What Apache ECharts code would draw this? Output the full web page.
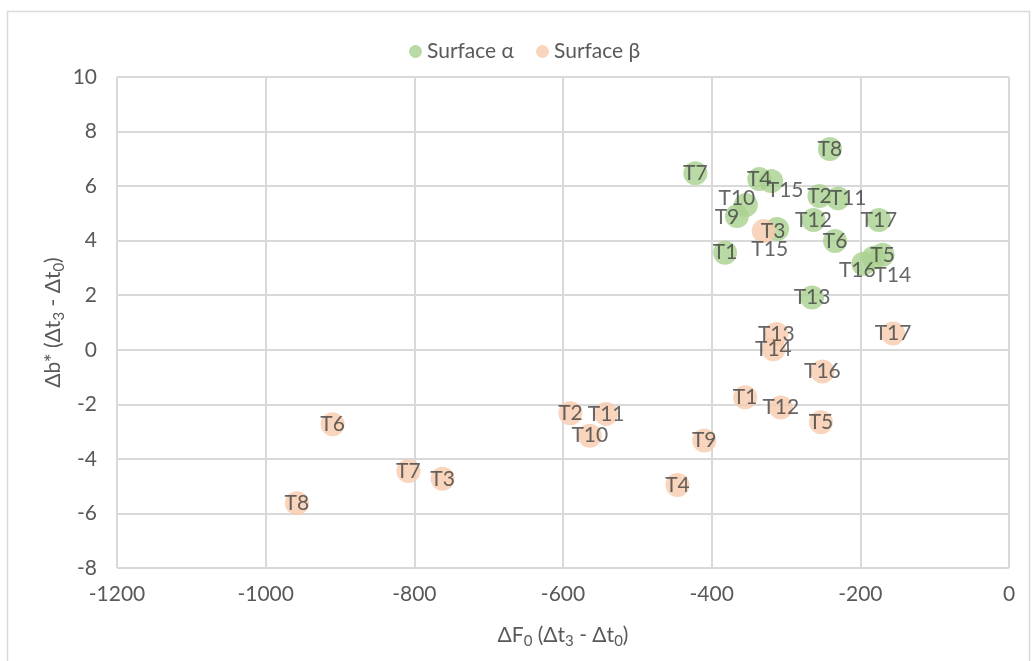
<!DOCTYPE html>
<html>
<head>
<meta charset="utf-8">
<script src="https://cdn.jsdelivr.net/npm/echarts@6/dist/echarts.min.js"></script>
<style>
  html, body { margin: 0; padding: 0; background: #ffffff; }
  #chart { width: 1033px; height: 661px; }
</style>
</head>
<body>
<div id="chart"></div>
<script>
// Sample labels shared by both surfaces
const names = ['T1','T2','T3','T4','T5','T6','T7','T8','T9','T10','T11','T12','T13','T14','T15','T16','T17'];

// Surface α: ΔF0 and Δb* per sample
const alphaX = [-382, -255, -312, -336, -170, -234, -422, -241, -366, -354, -230, -263, -265, -182, -320, -196, -175];
const alphaY = [3.56, 5.64, 4.43, 6.26, 3.48, 3.99, 6.47, 7.36, 4.90, 5.31, 5.55, 4.76, 1.92, 3.37, 6.19, 3.15, 4.76];

// Surface β: ΔF0 and Δb* per sample
const betaX = [-355, -590, -762, -446, -253, -910, -808, -958, -410, -564, -542, -307, -313, -317, -330, -251, -156];
const betaY = [-1.74, -2.33, -4.73, -4.96, -2.66, -2.73, -4.44, -5.63, -3.33, -3.15, -2.35, -2.12, 0.58, 0.02, 4.35, -0.80, 0.60];

// Axis ranges and ticks
const xMin = -1200, xMax = 0, xStep = 200;
const yMin = -8, yMax = 10, yStep = 2;

const seriesNames = ['Surface α', 'Surface β'];

// Label nudges (pixels) for crowded points
const labelNudge = {
  'Surface α': { T15: [14, 9], T10: [-9, -7], T9: [-10, 1], T11: [10, 0], T16: [-6, 6], T14: [19, 17], T3: [-4, 2] },
  'Surface β': { T15: [6, 18] }
};

const FONT = 'Lato';
const FS = 21;
const AXIS_COLOR = '#595959';
const LABEL_COLOR = '#404040';
const GRID_COLOR = '#d9d9d9';

function buildData(xs, ys, seriesName) {
  const nudge = labelNudge[seriesName] || {};
  return names.map((n, i) => {
    const item = { name: n, value: [xs[i], ys[i]] };
    if (nudge[n]) item.label = { offset: nudge[n] };
    return item;
  });
}

function subRich(size) {
  return {
    a: { fontFamily: FONT, fontSize: size, color: AXIS_COLOR },
    s: { fontFamily: FONT, fontSize: Math.round(size * 0.7), color: AXIS_COLOR, padding: [12, 0, 0, 0] }
  };
}

const chart = echarts.init(document.getElementById('chart'), null, { renderer: 'canvas' });

const commonSeries = {
  type: 'scatter',
  symbol: 'circle',
  symbolSize: 24,
  label: {
    show: true,
    position: 'inside',
    formatter: p => p.name,
    fontFamily: FONT,
    fontSize: FS,
    color: LABEL_COLOR
  },
  emphasis: { disabled: true }
};

chart.setOption({
  animation: false,
  backgroundColor: '#ffffff',
  color: ['#a9d18e', '#f8cbad'],
  graphic: [{
    type: 'rect',
    silent: true,
    shape: { x: 7.5, y: 11.5, width: 1022, height: 670 },
    style: { fill: 'none', stroke: GRID_COLOR, lineWidth: 1.5 }
  }],
  legend: {
    top: 36,
    left: 404,
    icon: 'circle',
    itemWidth: 13,
    itemHeight: 13,
    itemGap: 22,
    textStyle: { fontFamily: FONT, fontSize: FS, color: AXIS_COLOR },
    data: seriesNames
  },
  grid: { left: 117, right: 24, top: 77, bottom: 93 },
  xAxis: {
    type: 'value',
    min: xMin, max: xMax, interval: xStep,
    name: '{a|ΔF}{s|0}{a| (Δt}{s|3}{a| - Δt}{s|0}{a|)}',
    nameLocation: 'middle',
    nameGap: 54,
    nameTextStyle: { rich: subRich(FS) },
    axisLine: { show: false },
    axisTick: { show: false },
    axisLabel: { fontFamily: FONT, fontSize: FS, color: AXIS_COLOR, margin: 16, formatter: v => String(v) },
    splitLine: { show: true, lineStyle: { color: GRID_COLOR, width: 2 } }
  },
  yAxis: {
    type: 'value',
    min: yMin, max: yMax, interval: yStep,
    name: '{a|Δb* (Δt}{s|3}{a| - Δt}{s|0}{a|)}',
    nameLocation: 'middle',
    nameGap: 50,
    nameMoveOverlap: false,
    nameTextStyle: { rich: subRich(FS) },
    axisLine: { show: false },
    axisTick: { show: false },
    axisLabel: { fontFamily: FONT, fontSize: FS, color: AXIS_COLOR, margin: 20, formatter: v => String(v) },
    splitLine: { show: true, lineStyle: { color: GRID_COLOR, width: 2 } }
  },
  series: [
    Object.assign({}, commonSeries, { name: seriesNames[0], data: buildData(alphaX, alphaY, seriesNames[0]) }),
    Object.assign({}, commonSeries, { name: seriesNames[1], data: buildData(betaX, betaY, seriesNames[1]) })
  ]
});
</script>
</body>
</html>
